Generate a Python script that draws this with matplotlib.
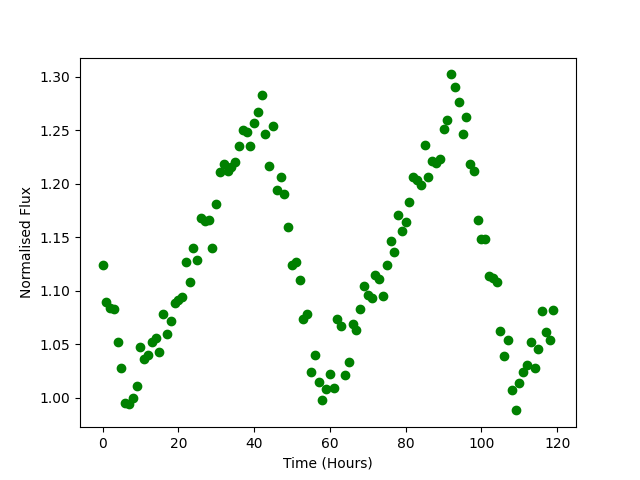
import matplotlib
matplotlib.use("Agg")
import matplotlib.pyplot as plt
import numpy as np

time_hours = list(range(120))
flux = [
    1.124, 1.089, 1.084, 1.083, 1.052, 1.028, 0.995, 0.994, 1.000, 1.011,
    1.047, 1.036, 1.040, 1.052, 1.056, 1.043, 1.078, 1.059, 1.072, 1.088,
    1.091, 1.094, 1.127, 1.108, 1.140, 1.129, 1.168, 1.165, 1.166, 1.140,
    1.181, 1.211, 1.218, 1.212, 1.215, 1.220, 1.235, 1.250, 1.248, 1.235,
    1.257, 1.267, 1.283, 1.246, 1.216, 1.254, 1.194, 1.206, 1.190, 1.159,
    1.124, 1.127, 1.110, 1.073, 1.078, 1.024, 1.040, 1.015, 0.998, 1.008,
    1.022, 1.009, 1.073, 1.067, 1.021, 1.033, 1.069, 1.063, 1.083, 1.104,
    1.096, 1.093, 1.115, 1.111, 1.095, 1.124, 1.146, 1.136, 1.171, 1.156,
    1.164, 1.183, 1.206, 1.203, 1.199, 1.236, 1.206, 1.221, 1.219, 1.223,
    1.251, 1.259, 1.302, 1.290, 1.276, 1.246, 1.262, 1.218, 1.212, 1.166,
    1.148, 1.148, 1.114, 1.112, 1.108, 1.062, 1.039, 1.054, 1.007, 0.988,
    1.014, 1.024, 1.030, 1.052, 1.028, 1.045, 1.081, 1.061, 1.054, 1.082,
]

fig, ax = plt.subplots(figsize=(6.4, 4.8), dpi=100)
ax.plot(time_hours, flux, 'o', color='green')
ax.set_xlabel('Time (Hours)')
ax.set_ylabel('Normalised Flux')
fig.savefig('out.png')
